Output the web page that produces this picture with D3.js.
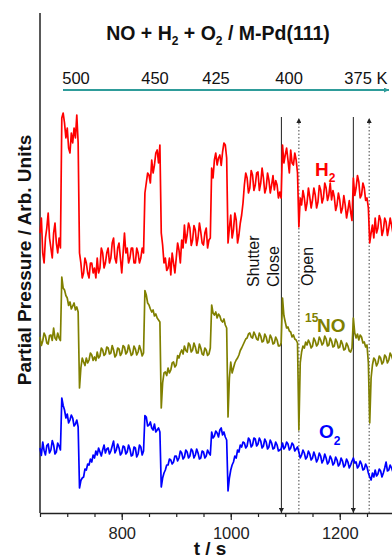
<!DOCTYPE html>
<html>
<head>
<meta charset="utf-8">
<script src="https://cdn.jsdelivr.net/npm/d3@7"></script>
<style>
  html, body { margin: 0; padding: 0; background: #fff; }
  svg { display: block; font-family: "Liberation Sans", Arial, sans-serif; }
</style>
</head>
<body>
<svg id="chart" width="392" height="558"></svg>
<script>
// ---- data (arbitrary units) ----
const sampleStart = 650, sampleStep = 2.5;          // sample times t = 650, 652.5, ... 1297.5 s
const h2 = [
  56,59,52,50,55,57,60,55,53,51,56,58,54,52,55,53,79,80,78,75,
  77,73,72,76,74,77,75,79.6,74,52,50,47,48,51,50,48,47,50,50,48,
  49,47,51,48,49,53,52,49,50,52,53,50,51,54,55,51,50,53,54,51,
  48,52,56,52,53,50,51,53,53,50,50,53,52,50,51,53,52,64,66,68,
  67.6,66,70.6,68,69.6,72,72.6,70,73.6,56,53.6,50,51,48.5,49,51,47.6,52,50,48,
  51,54,52.6,50,54.6,53,57.6,54,55.6,58,57,53.5,54.6,57.5,56.6,53.5,55,58,56.2,54,
  53.6,56,57,53,54.6,55,69,67,70.6,72,69.6,71,71.6,69.5,72.2,74,73.6,71,54,57,
  59.6,55,56.6,60,58.6,54,55.6,58,59.6,62,65.6,68,67,64,65,68.5,67.6,64.5,65.6,68,
  68.2,64.5,66,69,67,64,65,68,66.6,64,65.6,67.5,64.6,66.5,65.6,63,64.2,63,73.6,70,
  71.6,73,70.6,68,72.6,70,69.6,72,70.6,68,57.2,63,61.6,64.5,63,60.5,62,65,63.2,61,
  62.6,65,63.6,61,62.2,65.5,64.6,62,63,66,65,62.5,63.6,66,62.6,64.5,63.2,60.5,61.6,64,
  62.6,60,61,63.5,61.6,59,60.6,62.5,60.2,58.5,67,63.5,65,67.5,66.2,63,63.6,66,65,62.5,
  63,61,54,56,57.6,55,59,56,57,59.5,58.6,55.5,56.6,59,58.2,55.5,57,59,57.6,56
];
const no15 = [
  35.2,33.5,34.4,36,35.4,34,33.8,35.5,35.6,34.5,37,35,34.6,36,35,34.5,47.2,45,44.6,43.5,
  43,41.5,42.2,40.8,41.4,42,40.6,41.2,40.2,25,29,31,30.2,29.5,31,30,30.6,32,31.6,30.5,
  31.2,30.5,32.2,31,31.4,33,32.6,31.5,31.8,33.2,33,31.8,32,33.5,32.6,31.2,31.6,33,32.8,31.5,
  32,33.5,33.2,31.8,32.2,33.6,32.6,31.5,31.8,33.4,32.8,31.6,32.2,33.5,32.6,31.4,32,44.5,43.6,42,
  41.6,40.8,40.2,40.6,39.4,39.8,39,38.6,38.2,21,26,28,28.2,27.5,29,28,28.6,30,30.2,29.2,
  29.6,31.5,31,32,32.6,31.8,33.4,32.5,32.2,34,33.6,32.2,32.6,34,33.2,32,32,33.8,33,31.8,
  31.6,33,32.6,31.5,31.8,33,41.6,40,39.6,40.2,39,39.8,39.4,38.5,38.2,38.8,37.6,37,19.2,27,
  30.2,28,29,30,30.6,31,31.6,32.5,33,33.6,34.2,34.8,35,35.8,36,35.2,35,36.2,35.6,34.8,
  34.6,36,35.4,34.2,34.4,35.8,35.2,34,34.2,35.6,35,33.8,34,35.2,34.6,33.4,33.4,34,43,39.5,
  38.2,37,37.2,36.4,36.2,35.2,35.6,34.8,34.6,34,16.6,30,32.2,33.4,33,34.2,33.6,34.6,34,33,
  33.4,35,34.4,33.4,33.8,35.2,34.6,33.6,34,35.4,34.8,33.4,33.6,35,34.4,33.2,33.4,34.8,34.2,33,
  33.2,34.5,33.8,32.6,32.8,34,33.4,32.4,32.2,33,39,36,35,35.8,34.6,35.6,35.2,34,34.2,33.2,
  33.6,30,18,27,29.6,31,30.6,29.4,30,31.4,31,29.8,30.2,31.6,31.2,30,30.6,32,31.4,30.6
];
const o2 = [
  13,11.5,14.2,12.5,11.6,13.5,13.8,12,12.6,14.5,13.6,11.8,12.2,14,13.4,12.6,23,21.5,20.6,19,
  19.8,18,18.6,19.6,19,17.4,17.8,18.6,17.2,5,6.5,7,7.2,8.8,8.6,9.8,9.6,10.8,10.2,11.6,
  11,12.4,11.6,13,12.2,11.4,12.6,13.6,12,12.8,13,11.8,12.4,13.4,14.4,12,12.6,13.8,13,11.6,
  12,13.4,13.2,11.8,12.2,13.6,12.8,11.4,11.6,13.2,13,11.2,11.8,13.6,13.2,11.6,12.4,19.5,19.2,17.4,
  17.6,18.2,17,16.6,17.8,16.2,16.6,17,16.2,5.2,7,8,8.6,9.6,9.6,10.8,10.6,9.8,10.2,11.4,
  11.4,10.4,11,12.4,12,10.8,11.2,12.6,12.2,11,11.4,12.8,12.4,11,11.6,12.8,12,10.8,11,12.4,
  12.2,11,11.4,12.6,12,11.6,16.2,15,15.4,16.4,16,15.2,16.6,17,15.6,16.2,15.2,14.6,4.4,7,
  8.6,9.6,10.2,11.4,11,12.6,12.2,13.6,13.2,14.2,14,13,13.4,15,14.6,13.2,13.6,15,14.8,13.4,
  13.8,15,14.4,13,13.4,14.8,14.2,12.8,13.2,14.6,14,12.8,13,14.2,13.6,12.4,12.6,12.8,14,12.8,
  13.2,14.2,13.8,12.6,13,14,13.6,12.4,12.8,13.2,12.2,11,11.6,12.6,12,10.8,11.2,12.4,11.8,10.6,
  11,12.2,11.4,10.2,10.8,12,11.4,10,10.6,11.8,11,9.8,10.2,11.4,10.8,9.6,10,11.2,10.6,9.4,
  9.8,11,10.4,9.2,9.6,10.8,10.2,9,9.6,10.4,11,10,10.2,9,9.4,10.4,9.8,8.6,8.8,9.8,
  9.2,8,7.2,6.6,8,7.2,8.6,7.4,7.8,8.8,8.4,7.2,8,9,10.2,8.4,8.6,9.6,9,8.2
];
const majorTicks = [800, 1000, 1200];
const minorTicks = [650,700,750,800,850,900,950,1000,1050,1100,1150,1200,1250];
const shutterClose = [1093, 1225];
const shutterOpen = [1125, 1254];
const tempLabels = ["500", "450", "425", "400", "375 K"];
const tempTimes = [716, 861, 973, 1107, 1248];

// ---- layout ----
const svg = d3.select("#chart");
const x = d3.scaleLinear().domain([650, 1300]).range([40, 394.25]);
const y = d3.scaleLinear().domain([0, 100]).range([513, 13]);
const times = h2.map((_, i) => sampleStart + i * sampleStep);

svg.append("rect").attr("width", 392).attr("height", 558).attr("fill", "#fff");

const defs = svg.append("defs");
function marker(id, color) {
  defs.append("marker").attr("id", id)
    .attr("viewBox", "0 0 10 10").attr("refX", 10).attr("refY", 5)
    .attr("markerWidth", 5).attr("markerHeight", 5)
    .attr("markerUnits", "userSpaceOnUse")
    .attr("orient", "auto")
    .append("path").attr("d", "M0,0L10,5L0,10Z").attr("fill", color);
}
marker("arrDark", "#222");
marker("arrTeal", "#2e9c9a");

// axes
const minorAxis = d3.axisBottom(x).tickValues(minorTicks).tickSize(4).tickSizeOuter(0).tickFormat("");
const gMinor = svg.append("g").attr("transform", "translate(0,513)").call(minorAxis);
gMinor.select(".domain").remove();
gMinor.selectAll("line").attr("stroke", "#222").attr("stroke-width", 1.2);

const majorAxis = d3.axisBottom(x).tickValues(majorTicks).tickFormat(d3.format("d"))
  .tickSize(7).tickSizeOuter(0).tickPadding(7);
const gMajor = svg.append("g").attr("transform", "translate(0,513)").call(majorAxis);
gMajor.select(".domain").attr("stroke", "#222").attr("stroke-width", 1.5);
gMajor.selectAll("line").attr("stroke", "#222").attr("stroke-width", 1.2);
gMajor.selectAll("text").attr("font-size", 16.5).attr("fill", "#222")
  .attr("font-family", "Liberation Sans, Arial, sans-serif");

svg.append("line").attr("x1", x(650)).attr("x2", x(650))
  .attr("y1", y(100)).attr("y2", y(0))
  .attr("stroke", "#222").attr("stroke-width", 1.5);

// shutter lines
svg.selectAll(".close").data(shutterClose).enter().append("line")
  .attr("x1", d => x(d)).attr("x2", d => x(d))
  .attr("y1", y(79.2)).attr("y2", y(0))
  .attr("stroke", "#333").attr("stroke-width", 1.1)
  .attr("marker-end", "url(#arrDark)");
svg.selectAll(".open").data(shutterOpen).enter().append("line")
  .attr("x1", d => x(d)).attr("x2", d => x(d))
  .attr("y1", y(0)).attr("y2", y(79))
  .attr("stroke", "#555").attr("stroke-width", 1.1)
  .attr("stroke-dasharray", "1.5,2")
  .attr("marker-end", "url(#arrDark)");

// series
const line = d3.line().x((d, i) => x(times[i])).y(d => y(d));
[[h2, "#ff0000"], [no15, "#808000"], [o2, "#0000ff"]].forEach(([vals, col]) => {
  svg.append("path").datum(vals).attr("d", line)
    .attr("fill", "none").attr("stroke", col).attr("stroke-width", 1.7)
    .attr("stroke-linejoin", "round");
});

// temperature arrow + labels
svg.append("line").attr("x1", 63).attr("x2", 389).attr("y1", 90).attr("y2", 90)
  .attr("stroke", "#2e9c9a").attr("stroke-width", 2).attr("marker-end", "url(#arrTeal)");
svg.selectAll(".temp").data(tempLabels).enter().append("text")
  .attr("x", (d, i) => x(tempTimes[i])).attr("y", 84)
  .attr("text-anchor", "middle").attr("font-size", 16.5).attr("fill", "#111")
  .text(d => d);

// title
const title = svg.append("text").attr("x", 218).attr("y", 40).attr("text-anchor", "middle")
  .attr("font-size", 19.5).attr("font-weight", "bold").attr("fill", "#111");
title.append("tspan").text("NO + H");
title.append("tspan").attr("dy", 5).attr("font-size", 12).text("2");
title.append("tspan").attr("dy", -5).text(" + O");
title.append("tspan").attr("dy", 5).attr("font-size", 12).text("2");
title.append("tspan").attr("dy", -5).text(" / M-Pd(111)");

// axis titles
svg.append("text").attr("transform", "translate(31,260) rotate(-90)")
  .attr("text-anchor", "middle").attr("font-size", 19).attr("font-weight", "bold")
  .attr("fill", "#111").text("Partial Pressure / Arb. Units");
svg.append("text").attr("x", 210).attr("y", 555).attr("text-anchor", "middle")
  .attr("font-size", 19).attr("font-weight", "bold").attr("fill", "#111").text("t / s");

// shutter labels
[["Shutter", 259, 287], ["Close", 279, 287], ["Open", 313, 286]].forEach(([t, px, py]) => {
  svg.append("text").attr("transform", `translate(${px},${py}) rotate(-90)`)
    .attr("font-size", 16).attr("fill", "#111").text(t);
});

// series labels
const lH = svg.append("text").attr("x", 315).attr("y", 176).attr("font-size", 19)
  .attr("font-weight", "bold").attr("fill", "#ff0000");
lH.append("tspan").text("H");
lH.append("tspan").attr("dy", 6).attr("font-size", 12).text("2");

svg.append("text").attr("x", 305).attr("y", 322).attr("font-size", 12)
  .attr("font-weight", "bold").attr("fill", "#808000").text("15");
svg.append("text").attr("x", 317).attr("y", 332).attr("font-size", 19)
  .attr("font-weight", "bold").attr("fill", "#808000").text("NO");

const lO = svg.append("text").attr("x", 319).attr("y", 438).attr("font-size", 19)
  .attr("font-weight", "bold").attr("fill", "#0000ff");
lO.append("tspan").text("O");
lO.append("tspan").attr("dy", 7).attr("font-size", 12).text("2");
</script>
</body>
</html>
